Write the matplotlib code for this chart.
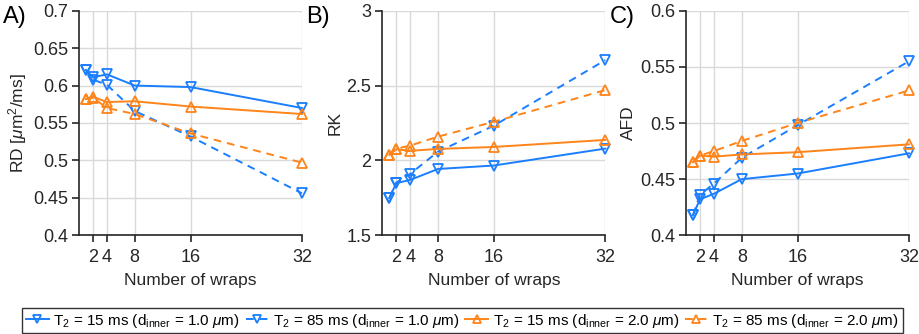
import matplotlib
matplotlib.use("Agg")
import matplotlib.pyplot as plt

plt.rcParams['font.family'] = ['Liberation Sans', 'DejaVu Sans']
plt.rcParams['mathtext.fontset'] = 'custom'
plt.rcParams['mathtext.rm'] = 'Liberation Sans'
plt.rcParams['mathtext.it'] = 'Liberation Sans:italic'

wraps = [1, 2, 4, 8, 16, 32]
xticks = [2, 4, 8, 16, 32]

# Panel A: RD
rd_t15_d1 = [0.621, 0.611, 0.615, 0.600, 0.598, 0.570]
rd_t85_d1 = [0.621, 0.608, 0.601, 0.566, 0.532, 0.456]
rd_t15_d2 = [0.582, 0.585, 0.578, 0.579, 0.572, 0.562]
rd_t85_d2 = [0.582, 0.584, 0.570, 0.562, 0.536, 0.497]

# Panel B: RK
rk_t15_d1 = [1.748, 1.848, 1.870, 1.943, 1.966, 2.079]
rk_t85_d1 = [1.750, 1.852, 1.910, 2.059, 2.232, 2.670]
rk_t15_d2 = [2.037, 2.075, 2.064, 2.077, 2.090, 2.137]
rk_t85_d2 = [2.037, 2.078, 2.099, 2.159, 2.258, 2.470]

# Panel C: AFD
afd_t15_d1 = [0.418, 0.432, 0.437, 0.450, 0.455, 0.473]
afd_t85_d1 = [0.418, 0.436, 0.446, 0.469, 0.498, 0.555]
afd_t15_d2 = [0.465, 0.471, 0.470, 0.472, 0.474, 0.481]
afd_t85_d2 = [0.465, 0.471, 0.475, 0.484, 0.500, 0.529]

labels = [r'T$_2$ = 15 ms (d$_{\mathrm{inner}}$ = 1.0 $\mu$m)',
          r'T$_2$ = 85 ms (d$_{\mathrm{inner}}$ = 1.0 $\mu$m)',
          r'T$_2$ = 15 ms (d$_{\mathrm{inner}}$ = 2.0 $\mu$m)',
          r'T$_2$ = 85 ms (d$_{\mathrm{inner}}$ = 2.0 $\mu$m)']

blue = '#1A7EFF'
orange = '#FF8419'
styles = [(blue, '-', 'v'), (blue, '--', 'v'), (orange, '-', '^'), (orange, '--', '^')]

panels = [
    ('A)', r'RD [$\mu$m$^2$/ms]', [rd_t15_d1, rd_t85_d1, rd_t15_d2, rd_t85_d2],
     (0.4, 0.7), [0.4, 0.45, 0.5, 0.55, 0.6, 0.65, 0.7], ['0.4', '0.45', '0.5', '0.55', '0.6', '0.65', '0.7']),
    ('B)', 'RK', [rk_t15_d1, rk_t85_d1, rk_t15_d2, rk_t85_d2],
     (1.5, 3.0), [1.5, 2.0, 2.5, 3.0], ['1.5', '2', '2.5', '3']),
    ('C)', 'AFD', [afd_t15_d1, afd_t85_d1, afd_t15_d2, afd_t85_d2],
     (0.4, 0.6), [0.4, 0.45, 0.5, 0.55, 0.6], ['0.4', '0.45', '0.5', '0.55', '0.6']),
]

W, H = 919, 334
fig = plt.figure(figsize=(W / 100, H / 100), dpi=100)
lefts = [79, 382.3, 686]
ax_w = 223
ax_top = 10.7
ax_bot = 235.3

handles = None
for (tag, ylab, series, ylim, yt, ytl), lx in zip(panels, lefts):
    ax = fig.add_axes([lx / W, (H - ax_bot) / H, ax_w / W, (ax_bot - ax_top) / H])
    hs = []
    for vals, (c, ls, m) in zip(series, styles):
        h, = ax.plot(wraps, vals, color=c, linestyle=ls, marker=m, markersize=7,
                     markerfacecolor='none', markeredgewidth=1.3, linewidth=1.4,
                     dashes=(4, 3) if ls == '--' else (None, None), clip_on=False, zorder=3)
        hs.append(h)
    handles = hs
    ax.set_xlim(0, 32)
    ax.set_ylim(*ylim)
    ax.set_xticks(xticks)
    ax.set_xticklabels([str(t) for t in xticks])
    ax.set_yticks(yt)
    ax.set_yticklabels(ytl)
    ax.grid(True, color='#d9d9d9', linewidth=1.0)
    ax.set_axisbelow(True)
    for s in ['top', 'right']:
        ax.spines[s].set_visible(False)
    for s in ['left', 'bottom']:
        ax.spines[s].set_color('#262626')
        ax.spines[s].set_linewidth(1.2)
    ax.tick_params(direction='out', length=5, width=1.2, colors='#262626',
                   labelsize=13, labelcolor='#262626', pad=3)
    ax.tick_params(axis='x', pad=5)
    ax.set_xlabel('Number of wraps', fontsize=12.5, color='#262626', labelpad=5)
    ax.set_ylabel(ylab, fontsize=12.5, color='#262626', labelpad=3)
    fig.text((lx - 76) / W, 1 - 17 / H, tag, fontsize=17, color='black', va='center', ha='left')

leg = fig.legend(handles, labels, loc='center', bbox_to_anchor=(462.5 / W, 1 - 320.5 / H),
                 ncol=4, fontsize=11, frameon=True, fancybox=False, edgecolor='black',
                 handlelength=1.5, handletextpad=0.3, columnspacing=0.35, borderpad=0.25,
                 borderaxespad=0)
leg.get_frame().set_linewidth(1.0)
for lh in leg.get_lines():
    lh.set_markersize(6)

fig.savefig('out.png', dpi=100)
